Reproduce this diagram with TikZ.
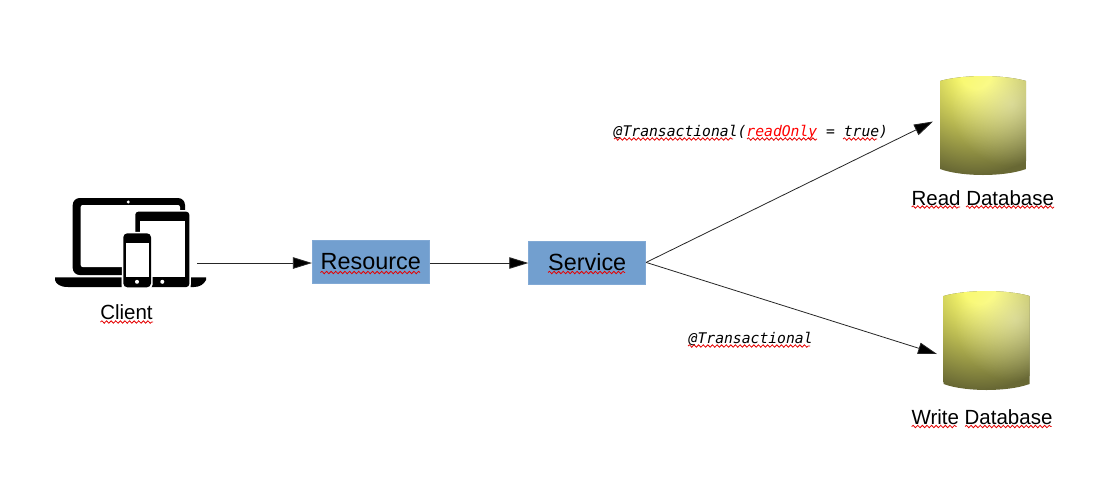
\documentclass[tikz,border=0pt]{standalone}
\usepackage{fontspec}
\setmainfont{Liberation Sans}
\newfontfamily\codefont{DejaVu Sans Mono}
\usetikzlibrary{arrows.meta,decorations.pathmorphing,fadings}
\definecolor{dbA}{HTML}{F9F96C}
\definecolor{dbB}{HTML}{B5B550}
\definecolor{dbC}{HTML}{686834}
\definecolor{boxblue}{HTML}{729FCF}
\definecolor{boxedge}{HTML}{81A9D5}
\pgfdeclareradialshading{dbglow}{\pgfpoint{0bp}{0bp}}{
  color(0bp)=(dbA); color(4bp)=(dbA); color(14bp)=(dbB); color(25bp)=(dbC); color(100bp)=(dbC)}
\pgfdeclareradialshading{palemask}{\pgfpoint{0bp}{0bp}}{
  color(0bp)=(black!62); color(25bp)=(black); color(100bp)=(black)}
\pgfdeclarefading{palefade}{\pgfuseshading{palemask}}
\tikzset{
  x=1pt, y=-1pt,
  boxnode/.style={draw=boxedge, line width=0.8pt, fill=boxblue, minimum width=117pt, minimum height=43pt, inner sep=0pt, font=\fontsize{23.4}{27}\selectfont, text=black},
  lbl/.style={anchor=base, inner sep=0pt, font=\fontsize{20.5}{24}\selectfont, text=black},
  codelbl/.style={anchor=base west, inner sep=0pt, font=\codefont\itshape\fontsize{14.7}{18}\selectfont, text=black},
  dbnode/.style={minimum width=86pt, minimum height=99pt, inner sep=0pt},
  flow/.style={draw=black!85, line width=0.8pt, -{Triangle[length=19pt,width=11.5pt,fill=black]}},
  wavy/.style={draw=red!90!black, line width=0.8pt, decorate, decoration={snake, amplitude=1.2pt, segment length=4.6pt}},
  iconblack/.style={fill=black, draw=none},
  iconwhite/.style={fill=white, draw=none},
  dbcyl/.pic={
    \begin{scope}
      \clip (0,5) .. controls (12,1.5) and (30,0) .. (43,0) .. controls (56,0) and (74,1.5) .. (86,5)
        -- (86,93) .. controls (74,97.5) and (56,99) .. (43,99) .. controls (30,99) and (12,97.5) .. (0,93) -- cycle;
      \fill[dbC] (-1,-1) rectangle (87,100);
      \shade[shading=dbglow] (36,-4) circle (102);
      \fill[white, path fading=palefade] (72,28) circle (62);
    \end{scope}
  }
}
\begin{document}
\begin{tikzpicture}
\useasboundingbox[fill=white] (0,0) rectangle (1107,491);

% client icon
\node[minimum width=151pt, minimum height=89pt, inner sep=0pt] (client) at (130.5,242.5) {};
\fill[iconblack, rounded corners=7pt] (72.7,275) -- (72.7,198) -- (185,198) -- (185,225) -- (140,275) -- cycle;
\fill[iconwhite, rounded corners=2pt] (80.7,267) -- (80.7,205) -- (180,205) -- (180,267) -- cycle;
\fill[iconwhite] (128.3,202) circle (1.6);
\fill[iconwhite] (121.7,267) rectangle (190,276.5);
\fill[iconblack] (55,277.3) -- (121.7,277.3) -- (121.7,287) -- (68,287) .. controls (60,287) and (56,284) .. (55,280) -- cycle;
\fill[iconblack] (190.7,277.3) -- (206,277.3) -- (206,280) .. controls (204,284) and (200,287) .. (194,287) -- (190.7,287) -- cycle;
\fill[iconwhite, rounded corners=4pt] (133.8,210.2) rectangle (190.8,288.2);
\fill[iconblack, rounded corners=3pt] (135.3,211.7) rectangle (189.3,287);
\fill[iconwhite] (140,221.3) rectangle (185,277.3);
\fill[iconwhite] (162.3,281.8) circle (2);
\fill[iconwhite, rounded corners=4pt] (121.8,231.8) rectangle (152.5,288.8);
\fill[iconblack, rounded corners=4pt] (123.3,233.3) rectangle (151,287.3);
\fill[iconwhite] (126.3,243.3) rectangle (148.7,277.3);
\fill[iconwhite] (137,281.8) circle (2);
\node[lbl] (clientlbl) at (126.5,319.5) {Client};
\draw[wavy] (100.5,322) -- (153,322);

% boxes
\node[boxnode] (resource) at (370.8,261.6) {Resource};
\node[boxnode] (service) at (587.2,262.4) {Service};
\draw[wavy] (320.5,272.5) -- (420,272.5);
\draw[wavy] (548,272.5) -- (625,272.5);

% databases
\node[dbnode] (readdb) at (983,125.5) {};
\pic at (940,76) {dbcyl};
\node[dbnode] (writedb) at (986.5,340.5) {};
\pic at (943.5,291) {dbcyl};
\node[lbl] (readlbl) at (982.8,205) {Read Database};
\draw[wavy] (911.7,207) -- (960,207);
\draw[wavy] (966,207) -- (1054,207);
\node[lbl] (writelbl) at (982,424.5) {Write Database};
\draw[wavy] (911.7,426.5) -- (956.7,426.5);
\draw[wavy] (965,426.5) -- (1051.7,426.5);

% connector ends
\coordinate (clientout) at (197,263);
\coordinate (readin) at (933,121.5);
\coordinate (writein) at (937,354);
\draw[flow] (clientout) -- (clientout -| resource.west);
\draw[flow] (resource.east |- clientout) -- (service.west |- clientout);
\draw[flow] (service.east) -- (readin);
\draw[flow] (service.east) -- (writein);

% code labels
\node[codelbl] (readcode) at (613.5,136.5) {@Transactional({\color{red}readOnly} = true)};
\draw[wavy] (614,139) -- (733,139);
\draw[wavy] (747,139) -- (817,139);
\draw[wavy] (843,139) -- (877,139);
\node[codelbl] (writecode) at (688.5,343) {@Transactional};
\draw[wavy] (688,346) -- (810,346);
\end{tikzpicture}
\end{document}
